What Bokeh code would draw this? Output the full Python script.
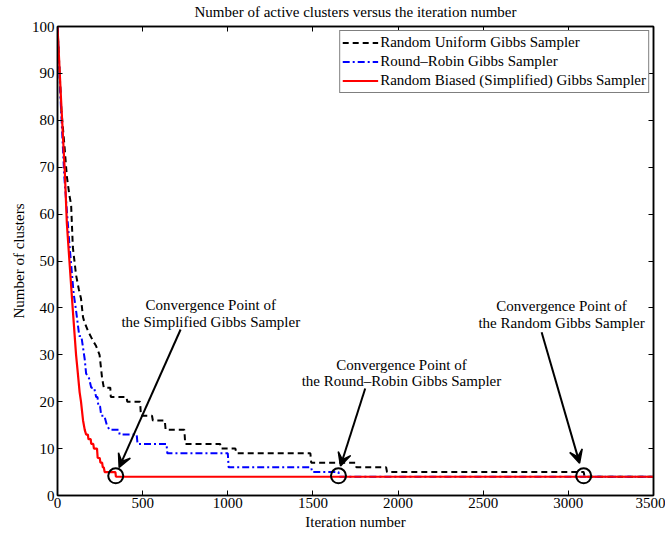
from bokeh.plotting import figure
from bokeh.models import (Arrow, VeeHead, LinearAxis, ColumnDataSource, Range1d,
                          FixedTicker, Legend, LegendItem, CustomJSTickFormatter)
from bokeh.core.properties import value
from bokeh.embed import file_html
from bokeh.resources import INLINE

FONT = "Liberation Serif"

# ---------------- data ----------------
title_text = "Number of active clusters versus the iteration number"

uniform_iter = [0, 23, 40, 55, 70, 80, 90, 109, 125, 138, 150, 158, 180, 208, 225, 247,
                262, 272, 310, 313, 405, 410, 485, 490, 555, 560, 630, 635, 745, 750,
                955, 960, 1045, 1050, 1485, 1490, 1750, 1755, 1930, 1935, 3090, 3095, 3500]
uniform_clusters = [100, 82, 75, 68, 64, 62, 53, 47, 44, 42, 38, 37, 35, 33, 32, 30,
                    25, 23, 23, 21, 21, 20, 20, 17, 17, 16, 16, 14, 14, 11,
                    11, 10, 10, 9, 9, 7, 7, 6, 6, 5, 5, 4, 4]

robin_iter = [0, 20, 40, 69, 95, 107, 128, 140, 148, 160, 168, 185, 198, 215, 227, 235,
              240, 250, 257, 275, 290, 306, 360, 365, 465, 470, 640, 645, 1000, 1005,
              1490, 1495, 1650, 1655, 3500]
robin_clusters = [100, 83, 68, 54, 43, 40, 34, 34, 32, 29, 26, 25, 23, 23, 21, 21,
                  19, 19, 17, 17, 15, 14, 14, 13, 13, 11, 11, 9, 9, 6,
                  6, 5, 5, 4, 4]

biased_iter = [0, 20, 43, 55, 70, 89, 109, 117, 130, 138, 150, 160, 168, 178, 182, 195,
               198, 210, 214, 232, 236, 248, 252, 262, 266, 272, 277, 340, 343, 3500]
biased_clusters = [100, 85, 69, 58, 50, 40, 30, 27, 22, 20, 16, 14, 13, 13, 12, 12,
                   11, 11, 10, 10, 8, 8, 7, 7, 6, 6, 5, 5, 4, 4]

series_names = ["Random Uniform Gibbs Sampler",
                "Round\u2013Robin Gibbs Sampler",
                "Random Biased (Simplified) Gibbs Sampler"]

x_ticks = [0, 500, 1000, 1500, 2000, 2500, 3000, 3500]
y_ticks = [0, 10, 20, 30, 40, 50, 60, 70, 80, 90, 100]

conv_iter = [342, 1650, 3090]
conv_clusters = [4.2, 4.2, 4.2]

note_lines_1 = ["Convergence Point of", "the Simplified Gibbs Sampler"]
note_lines_2 = ["Convergence Point of", "the Round\u2013Robin Gibbs Sampler"]
note_lines_3 = ["Convergence Point of", "the Random Gibbs Sampler"]
note_x = [900, 2020, 2960]
note_y_top = [40.6, 27.9, 40.3]
note_y_bottom = [37.0, 24.4, 36.7]
arrow_start_x = [723, 1807, 2843]
arrow_start_y = [35.4, 22.8, 34.8]
arrow_end_x = [362, 1662, 3066]
arrow_end_y = [6.0, 6.3, 6.9]

# ---------------- figure ----------------
p = figure(width=665, height=533, output_backend="svg", toolbar_location=None,
           x_range=Range1d(0, 3500), y_range=Range1d(0, 100),
           min_border_left=57, min_border_right=12, min_border_top=26, min_border_bottom=38)
p.background_fill_color = "white"
p.border_fill_color = "white"
p.xgrid.visible = False
p.ygrid.visible = False
p.outline_line_color = "black"
p.outline_line_width = 1.5

for ax, ticks in ((p.xaxis[0], x_ticks), (p.yaxis[0], y_ticks)):
    ax.ticker = FixedTicker(ticks=ticks)
    ax.major_tick_in = 5
    ax.major_tick_out = 0
    ax.minor_tick_line_color = None
    ax.axis_line_color = "black"
    ax.axis_line_width = 1.5
    ax.major_label_text_font = FONT
    ax.major_label_text_font_size = "15px"
    ax.major_label_text_color = "black"
    ax.axis_label_text_font = FONT
    ax.axis_label_text_font_size = "15px"
    ax.axis_label_text_font_style = "normal"
    ax.axis_label_text_color = "black"

p.xaxis.axis_label = "Iteration number"
p.yaxis.axis_label = "Number of clusters"
p.xaxis.major_label_standoff = 2
p.xaxis.axis_label_standoff = 3
p.yaxis.major_label_standoff = 3
p.yaxis.axis_label_standoff = 2

# mirrored ticks on top (carrying the title) and right
blank = CustomJSTickFormatter(code="return ''")
top_axis = LinearAxis(ticker=FixedTicker(ticks=x_ticks), formatter=blank,
                      major_tick_in=5, major_tick_out=0, minor_tick_line_color=None,
                      axis_line_color="black", axis_line_width=1.5,
                      major_label_text_font_size="0px", major_label_standoff=0,
                      axis_label=title_text, axis_label_text_font=FONT,
                      axis_label_text_font_size="15px", axis_label_text_font_style="normal",
                      axis_label_text_color="black", axis_label_standoff=7)
p.add_layout(top_axis, "above")
right_axis = LinearAxis(ticker=FixedTicker(ticks=y_ticks), formatter=blank,
                        major_tick_in=5, major_tick_out=0, minor_tick_line_color=None,
                        axis_line_color="black", axis_line_width=1.5,
                        major_label_text_font_size="0px", major_label_standoff=0)
p.add_layout(right_axis, "right")

r_uniform = p.line(uniform_iter, uniform_clusters, line_color="black", line_width=2,
                   line_dash="6 4")
r_robin = p.line(robin_iter, robin_clusters, line_color="#0000FF", line_width=2,
                 line_dash="7 3 2 3")
r_biased = p.line(biased_iter, biased_clusters, line_color="#FF0000", line_width=2.2)

p.scatter(conv_iter, conv_clusters, marker="circle", size=15, fill_color=None,
          line_color="black", line_width=2)

for i in range(3):
    p.add_layout(Arrow(end=VeeHead(size=13, fill_color="black", line_color="black",
                                   line_width=1.5),
                       x_start=arrow_start_x[i], y_start=arrow_start_y[i],
                       x_end=arrow_end_x[i], y_end=arrow_end_y[i],
                       line_color="black", line_width=2))

notes = [note_lines_1, note_lines_2, note_lines_3]
src = ColumnDataSource(dict(
    x=[note_x[i] for i in range(3) for _ in range(2)],
    y=[v for i in range(3) for v in (note_y_top[i], note_y_bottom[i])],
    text=[t for n in notes for t in n]))
p.text(x="x", y="y", text="text", source=src, text_font=value(FONT),
       text_font_size="15px", text_align="center", text_baseline="middle",
       text_color="black")

legend = Legend(items=[LegendItem(label=series_names[0], renderers=[r_uniform]),
                       LegendItem(label=series_names[1], renderers=[r_robin]),
                       LegendItem(label=series_names[2], renderers=[r_biased])],
                location="top_right")
legend.label_text_font = FONT
legend.label_text_font_size = "15px"
legend.label_text_color = "black"
legend.border_line_color = "black"
legend.border_line_width = 1.2
legend.background_fill_alpha = 1
legend.spacing = 0
legend.padding = 2
legend.margin = 4
legend.glyph_width = 36
legend.glyph_height = 19
legend.label_height = 19
legend.label_standoff = 2
p.add_layout(legend)

open("out.html", "w").write(file_html(p, INLINE))
